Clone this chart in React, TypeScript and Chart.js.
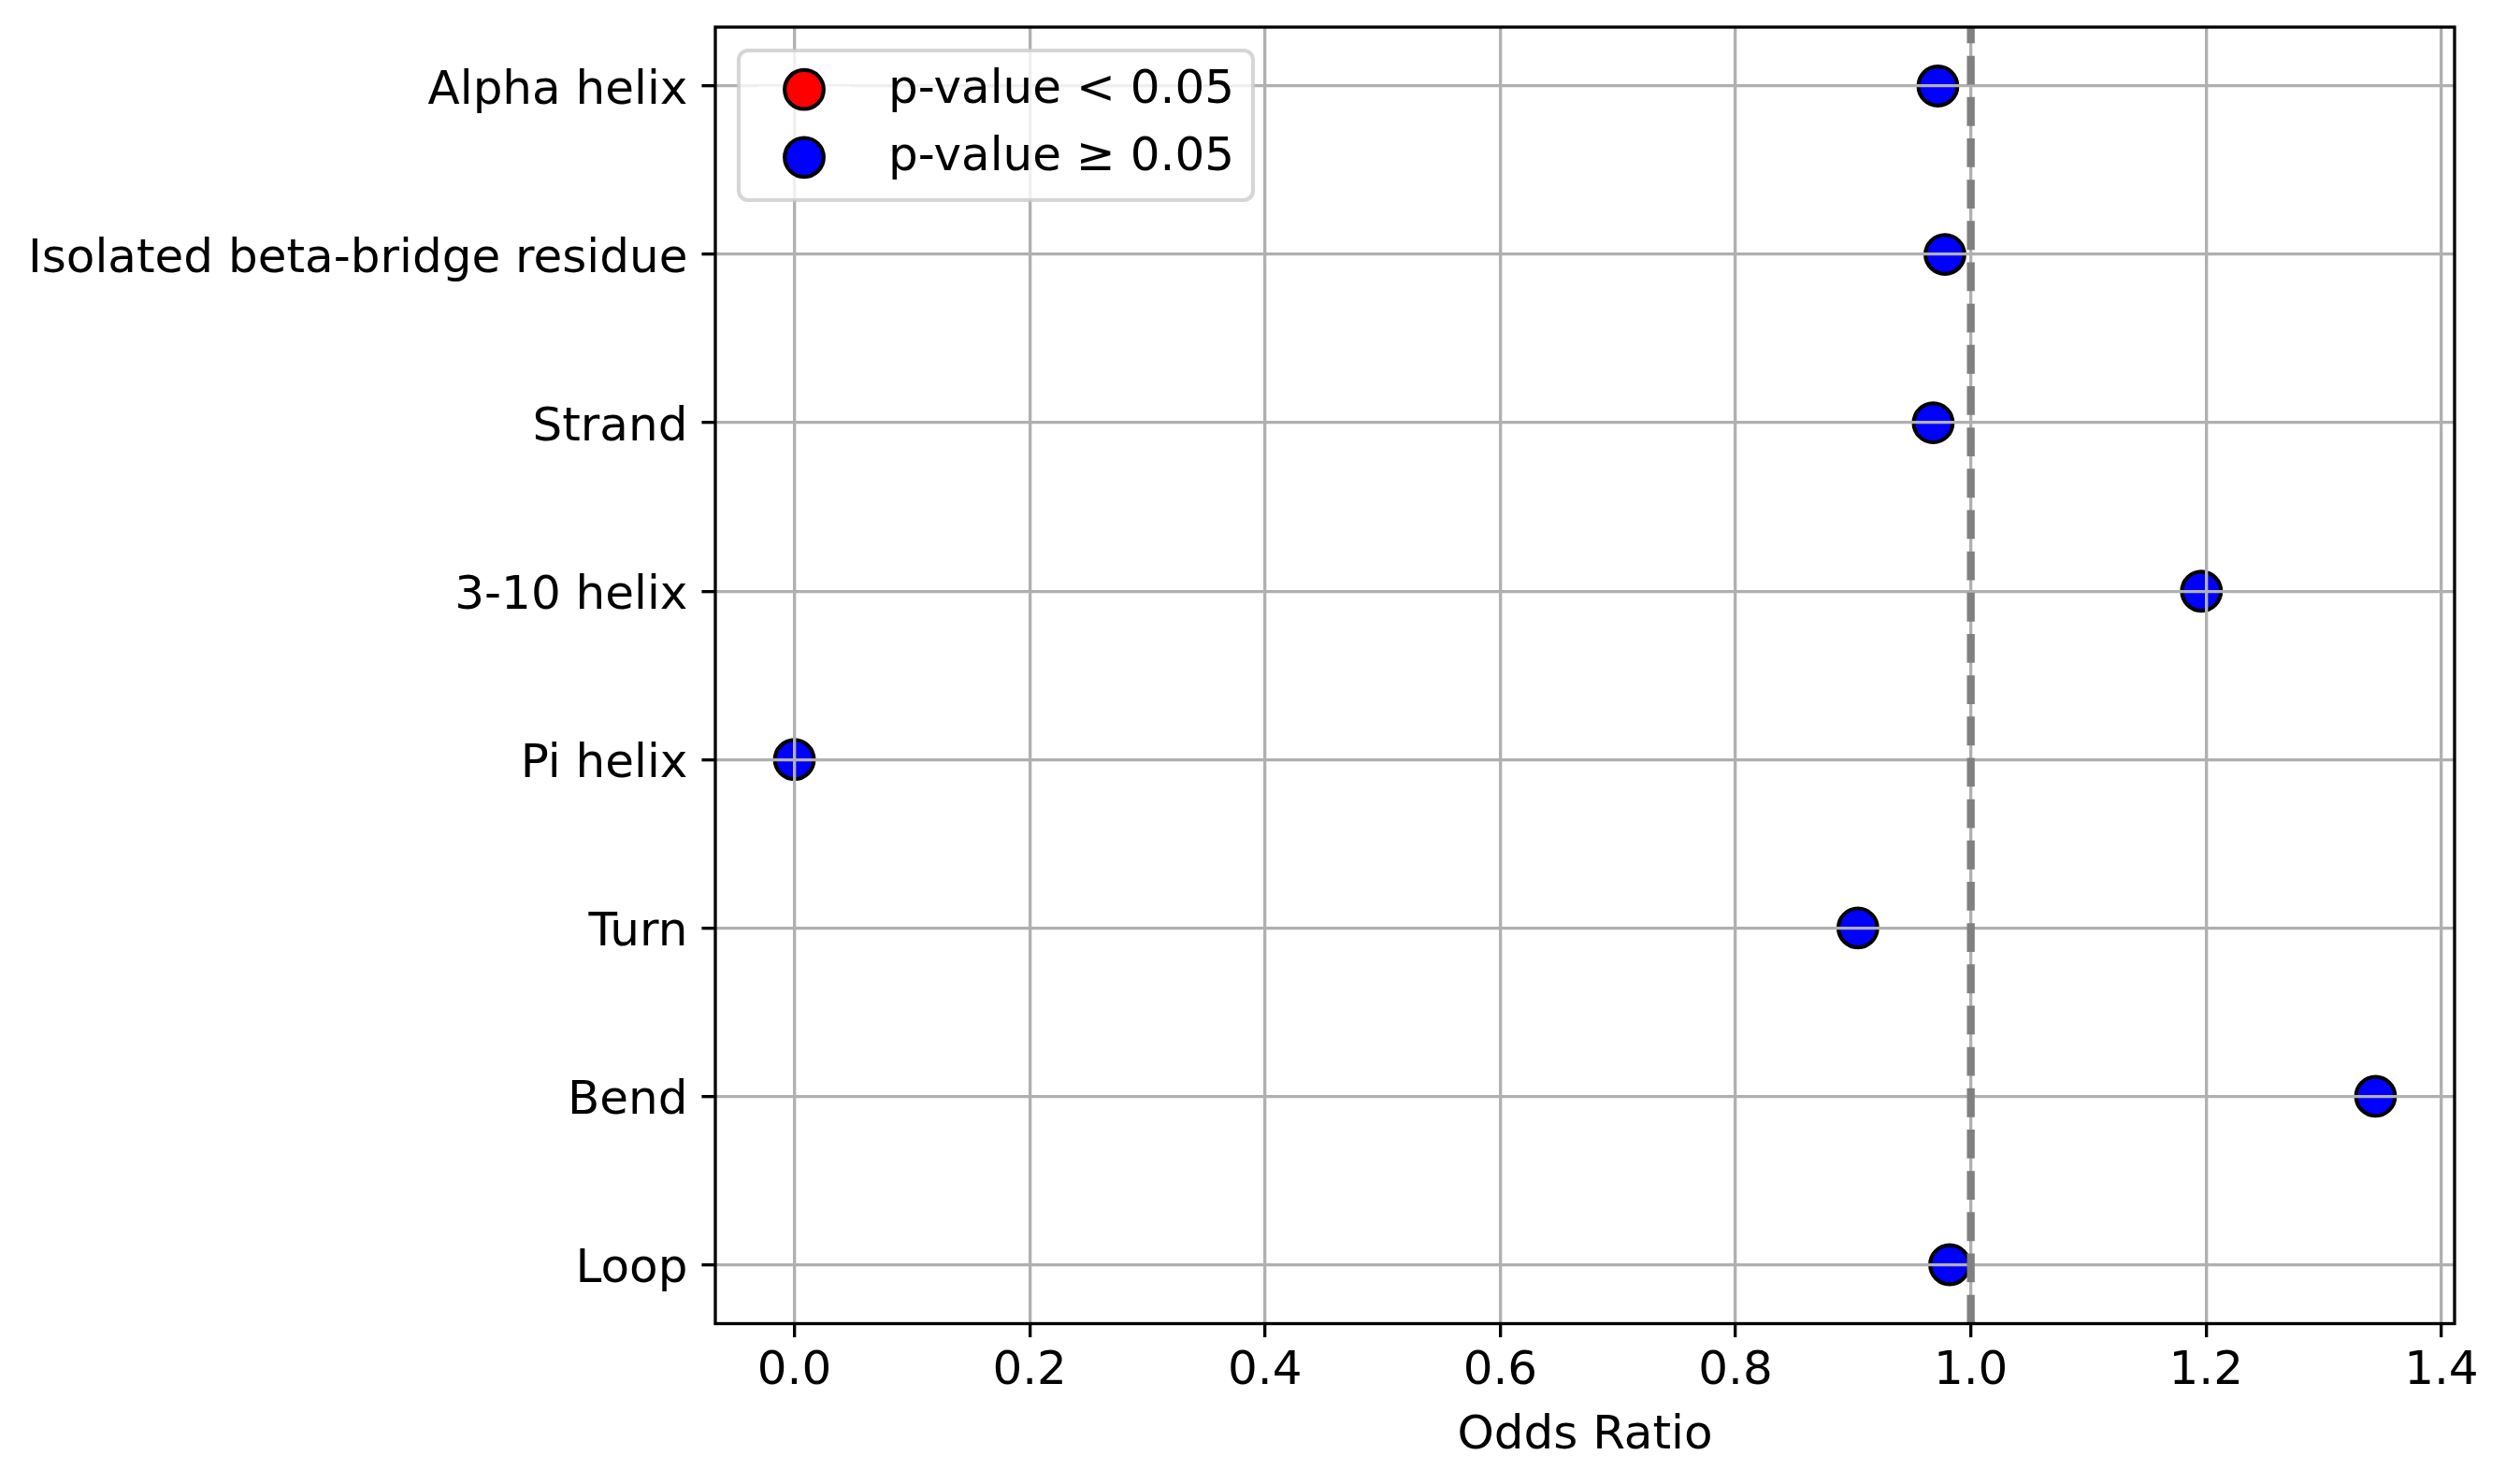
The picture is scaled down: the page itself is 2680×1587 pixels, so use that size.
import React, { useEffect, useRef } from "react";
import { Chart, registerables } from "chart.js";

Chart.register(...registerables);

// secondary structure categories, top to bottom
const categories = [
  "Alpha helix",
  "Isolated beta-bridge residue",
  "Strand",
  "3-10 helix",
  "Pi helix",
  "Turn",
  "Bend",
  "Loop",
];
const oddsRatios = [0.972, 0.978, 0.968, 1.196, 0.0, 0.904, 1.344, 0.982];
const significant = [false, false, false, false, false, false, false, false];
const legendLabels = ["p-value < 0.05", "p-value ≥ 0.05"];
const legendColors = ["red", "blue"];
const xTicks = [0.0, 0.2, 0.4, 0.6, 0.8, 1.0, 1.2, 1.4];
const referenceLine = 1.0;

const W = 2680;
const H = 1587;
const PT = 300 / 72; // matplotlib points -> px at 300 dpi
const FONT_SIZE = 12 * PT;
const FONT = { family: "'DejaVu Sans', sans-serif", size: FONT_SIZE };

// 5% margins like matplotlib
const xLo = Math.min(...oddsRatios);
const xHi = Math.max(...oddsRatios);
const xPad = (xHi - xLo) * 0.05;
const yPad = (categories.length - 1) * 0.05;

const decorPlugin = {
  id: "decor",
  beforeDraw(chart: any) {
    // nudge y tick labels down a little (matplotlib centre_baseline look)
    const ys = chart.scales.y;
    const items = ys.getLabelItems(chart.chartArea);
    items.forEach((it: any) => {
      if (!it._shifted) {
        it.options.translation[1] += 6;
        it._shifted = true;
      }
    });
  },
  afterDraw(chart: any) {
    const { ctx, chartArea, scales } = chart;
    const { left, right, top, bottom } = chartArea;

    // reference dashed line at OR = 1
    const lw = 2 * PT;
    const xr = scales.x.getPixelForValue(referenceLine);
    ctx.save();
    ctx.strokeStyle = "#808080";
    ctx.lineWidth = lw;
    ctx.setLineDash([3.7 * lw, 1.6 * lw]);
    ctx.beginPath();
    ctx.moveTo(xr, bottom);
    ctx.lineTo(xr, top);
    ctx.stroke();
    ctx.restore();

    // spines
    ctx.save();
    ctx.strokeStyle = "#000";
    ctx.lineWidth = 0.8 * PT;
    ctx.strokeRect(left, top, right - left, bottom - top);
    ctx.restore();

    // legend (upper left)
    const fs = FONT_SIZE;
    ctx.save();
    ctx.font = `${fs}px 'DejaVu Sans', sans-serif`;
    const items = chart.data.datasets
      .filter((d: any) => d.legendColor)
      .map((d: any) => ({ text: d.label, color: d.legendColor }));
    const textW = Math.max(...items.map((it: any) => ctx.measureText(it.text).width));
    const bx = left + 0.5 * fs;
    const by = top + 0.5 * fs;
    const rowH = 1.452 * fs;
    const bw = 0.4 * fs + 2 * fs + 0.8 * fs + textW + 0.4 * fs;
    const bh = 0.834 * fs * 2 + rowH * (items.length - 1) + 0.08 * fs;
    const r = 0.2 * fs;
    ctx.beginPath();
    ctx.moveTo(bx + r, by);
    ctx.arcTo(bx + bw, by, bx + bw, by + bh, r);
    ctx.arcTo(bx + bw, by + bh, bx, by + bh, r);
    ctx.arcTo(bx, by + bh, bx, by, r);
    ctx.arcTo(bx, by, bx + bw, by, r);
    ctx.closePath();
    ctx.fillStyle = "rgba(255,255,255,0.8)";
    ctx.fill();
    ctx.lineWidth = 1 * PT;
    ctx.strokeStyle = "rgba(204,204,204,0.8)";
    ctx.stroke();

    items.forEach((it: any, i: number) => {
      const cy = by + 0.834 * fs + i * rowH;
      const hx0 = bx + 0.4 * fs;
      const hx1 = hx0 + 2 * fs;
      ctx.strokeStyle = "#fff";
      ctx.lineWidth = 1.5 * PT;
      ctx.beginPath();
      ctx.moveTo(hx0, cy);
      ctx.lineTo(hx1, cy);
      ctx.stroke();
      ctx.beginPath();
      ctx.arc((hx0 + hx1) / 2, cy, 5 * PT, 0, Math.PI * 2);
      ctx.fillStyle = it.color;
      ctx.fill();
      ctx.lineWidth = 1 * PT;
      ctx.strokeStyle = "#000";
      ctx.stroke();
      ctx.fillStyle = "#000";
      ctx.textAlign = "left";
      ctx.textBaseline = "middle";
      ctx.fillText(it.text, hx1 + 0.8 * fs, cy + 1);
    });
    ctx.restore();
  },
};

const ForestChart: React.FC = () => {
  const canvasRef = useRef<HTMLCanvasElement | null>(null);

  useEffect(() => {
    if (!canvasRef.current) return;

    const points = oddsRatios.map((v, i) => ({ x: v, y: i, sig: significant[i] }));
    const pointStyle = {
      pointRadius: 5 * PT,
      pointHoverRadius: 5 * PT,
      pointBorderWidth: 1 * PT,
      pointBorderColor: "#000",
    };

    const chart = new Chart(canvasRef.current, {
      type: "scatter",
      data: {
        datasets: [
          {
            label: legendLabels[0],
            legendColor: legendColors[0],
            data: points.filter((p) => p.sig),
            pointBackgroundColor: legendColors[0],
            ...pointStyle,
          } as any,
          {
            label: legendLabels[1],
            legendColor: legendColors[1],
            data: points.filter((p) => !p.sig),
            pointBackgroundColor: legendColors[1],
            ...pointStyle,
          } as any,
        ],
      },
      options: {
        responsive: false,
        animation: false,
        devicePixelRatio: 1,
        events: [],
        layout: { padding: { left: 0, top: 29, right: 55, bottom: 0 } },
        plugins: {
          legend: { display: false },
          tooltip: { enabled: false },
        },
        scales: {
          x: {
            type: "linear",
            min: xLo - xPad,
            max: xHi + xPad,
            afterBuildTicks: (s: any) => {
              s.ticks = xTicks.map((v) => ({ value: v }));
            },
            afterFit: (s: any) => {
              s.height = 171.5;
              s.paddingLeft = 0;
              s.paddingRight = 0;
            },
            grid: {
              color: "#b0b0b0",
              lineWidth: 0.8 * PT,
              z: 1,
              drawTicks: true,
              tickLength: 3.5 * PT,
              tickColor: "#000",
              tickWidth: 0.8 * PT,
            },
            border: { display: false },
            ticks: {
              color: "#000",
              font: FONT,
              padding: 7,
              autoSkip: false,
              maxRotation: 0,
              callback: (v: any) => Number(v).toFixed(1),
            },
            title: {
              display: true,
              text: "Odds Ratio",
              color: "#000",
              font: FONT,
              padding: { top: 0, bottom: 21 },
            },
          },
          y: {
            type: "linear",
            reverse: true,
            min: -yPad,
            max: categories.length - 1 + yPad,
            afterBuildTicks: (s: any) => {
              s.ticks = categories.map((_, i) => ({ value: i }));
            },
            afterFit: (s: any) => {
              s.width = 765;
              s.paddingTop = 0;
              s.paddingBottom = 0;
            },
            grid: {
              color: "#b0b0b0",
              lineWidth: 0.8 * PT,
              z: 1,
              drawTicks: true,
              tickLength: 3.5 * PT,
              tickColor: "#000",
              tickWidth: 0.8 * PT,
            },
            border: { display: false },
            ticks: {
              color: "#000",
              font: FONT,
              padding: 15,
              autoSkip: false,
              callback: (v: any) => categories[Math.round(Number(v))] ?? "",
            },
          },
        },
      },
      plugins: [decorPlugin],
    });

    return () => {
      chart.destroy();
    };
  }, []);

  return (
    <div style={{ position: "absolute", left: 0, top: 0, width: W, height: H, background: "#fff" }}>
      <canvas ref={canvasRef} width={W} height={H} style={{ width: W, height: H }} />
    </div>
  );
};

export default function App() {
  return <ForestChart />;
}
